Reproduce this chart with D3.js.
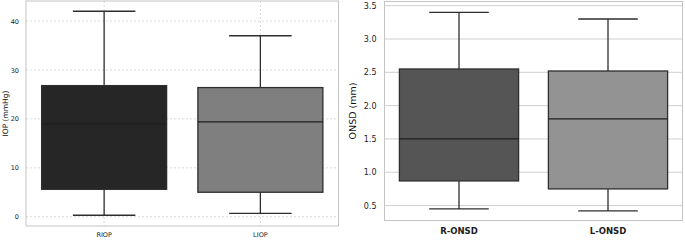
<!DOCTYPE html>
<html>
<head>
<meta charset="utf-8">
<script src="https://cdnjs.cloudflare.com/ajax/libs/d3/7.8.5/d3.min.js"></script>
<style>
  body { margin: 0; background: #fff; }
  svg { display: block; font-family: "DejaVu Sans", sans-serif; }
</style>
</head>
<body>
<div id="chart"></div>
<script>
// IOP panel
var iopGroups = ["RIOP", "LIOP"];
var iopMin = [0.3, 0.7];
var iopQ1 = [5.6, 5.0];
var iopMedian = [19.0, 19.4];
var iopQ3 = [26.8, 26.4];
var iopMax = [42.0, 37.0];
var iopTicks = [0, 10, 20, 30, 40];

// ONSD panel
var onsdGroups = ["R-ONSD", "L-ONSD"];
var onsdMin = [0.45, 0.42];
var onsdQ1 = [0.87, 0.75];
var onsdMedian = [1.5, 1.8];
var onsdQ3 = [2.55, 2.52];
var onsdMax = [3.4, 3.3];
var onsdTicks = [0.5, 1.0, 1.5, 2.0, 2.5, 3.0, 3.5];

var w = 685;
var h = 240;

var svg = d3.select("#chart")
    .append("svg")
    .attr("width", w)
    .attr("height", h);

function drawPanel(opt) {
    var g = svg.append("g");

    var x = d3.scaleBand()
        .domain(opt.groups)
        .range([opt.left, opt.right])
        .paddingInner(0)
        .paddingOuter(0);

    var y = d3.scaleLinear()
        .domain(opt.domain)
        .range([opt.bottom, opt.top]);

    var rows = opt.groups.map(function (d, i) {
        return {
            name: d, min: opt.min[i], q1: opt.q1[i], med: opt.med[i],
            q3: opt.q3[i], max: opt.max[i], fill: opt.fills[i]
        };
    });

    // horizontal grid
    g.selectAll(".hgrid")
        .data(opt.ticks)
        .enter()
        .append("line")
        .attr("x1", opt.left)
        .attr("x2", opt.right)
        .attr("y1", d => y(d))
        .attr("y2", d => y(d))
        .attr("stroke", opt.gridColor)
        .attr("stroke-width", opt.gridWidth)
        .attr("stroke-dasharray", opt.dash);

    // vertical grid
    if (opt.vgrid) {
        g.selectAll(".vgrid")
            .data(opt.groups)
            .enter()
            .append("line")
            .attr("x1", d => x(d) + x.bandwidth() / 2)
            .attr("x2", d => x(d) + x.bandwidth() / 2)
            .attr("y1", opt.top)
            .attr("y2", opt.bottom)
            .attr("stroke", opt.gridColor)
            .attr("stroke-width", opt.gridWidth)
            .attr("stroke-dasharray", opt.dash);
    }

    // frame
    g.append("rect")
        .attr("x", opt.left)
        .attr("y", opt.top)
        .attr("width", opt.right - opt.left)
        .attr("height", opt.bottom - opt.top)
        .attr("fill", "none")
        .attr("stroke", "#c4c4c4")
        .attr("stroke-width", 1);

    var boxW = x.bandwidth() * 0.8;
    var capW = x.bandwidth() * 0.4;
    var stroke = "#2e2e2e";

    var box = g.selectAll(".box")
        .data(rows)
        .enter()
        .append("g");

    // whiskers
    box.append("line")
        .attr("x1", d => x(d.name) + x.bandwidth() / 2)
        .attr("x2", d => x(d.name) + x.bandwidth() / 2)
        .attr("y1", d => y(d.max))
        .attr("y2", d => y(d.q3))
        .attr("stroke", stroke).attr("stroke-width", 1.3);
    box.append("line")
        .attr("x1", d => x(d.name) + x.bandwidth() / 2)
        .attr("x2", d => x(d.name) + x.bandwidth() / 2)
        .attr("y1", d => y(d.q1))
        .attr("y2", d => y(d.min))
        .attr("stroke", stroke).attr("stroke-width", 1.3);
    // caps
    box.append("line")
        .attr("x1", d => x(d.name) + (x.bandwidth() - capW) / 2)
        .attr("x2", d => x(d.name) + (x.bandwidth() + capW) / 2)
        .attr("y1", d => y(d.max))
        .attr("y2", d => y(d.max))
        .attr("stroke", stroke).attr("stroke-width", 1.3);
    box.append("line")
        .attr("x1", d => x(d.name) + (x.bandwidth() - capW) / 2)
        .attr("x2", d => x(d.name) + (x.bandwidth() + capW) / 2)
        .attr("y1", d => y(d.min))
        .attr("y2", d => y(d.min))
        .attr("stroke", stroke).attr("stroke-width", 1.3);
    // box
    box.append("rect")
        .attr("x", d => x(d.name) + (x.bandwidth() - boxW) / 2)
        .attr("y", d => y(d.q3))
        .attr("width", boxW)
        .attr("height", d => y(d.q1) - y(d.q3))
        .attr("fill", d => d.fill)
        .attr("stroke", stroke)
        .attr("stroke-width", 1.3);
    // median
    box.append("line")
        .attr("x1", d => x(d.name) + (x.bandwidth() - boxW) / 2)
        .attr("x2", d => x(d.name) + (x.bandwidth() + boxW) / 2)
        .attr("y1", d => y(d.med))
        .attr("y2", d => y(d.med))
        .attr("stroke", "#1e1e1e").attr("stroke-width", 1.2);

    // y tick labels
    var yAxis = d3.axisLeft(y)
        .tickValues(opt.ticks)
        .tickFormat(opt.fmt)
        .tickSize(0)
        .tickPadding(opt.tickPad);
    var ya = g.append("g")
        .attr("transform", "translate(" + opt.left + ",0)")
        .call(yAxis);
    ya.select(".domain").remove();
    ya.selectAll("text")
        .attr("font-family", "DejaVu Sans, sans-serif")
        .attr("font-size", opt.tickSize)
        .attr("fill", "#1c1c1c");

    // x tick labels
    var xAxis = d3.axisBottom(x).tickSize(0).tickPadding(opt.xPad);
    var xa = g.append("g")
        .attr("transform", "translate(0," + opt.bottom + ")")
        .call(xAxis);
    xa.select(".domain").remove();
    xa.selectAll("text")
        .attr("font-family", "DejaVu Sans, sans-serif")
        .attr("font-size", opt.xSize)
        .attr("font-weight", opt.xWeight)
        .attr("fill", "#1c1c1c");

    // y label
    g.append("text")
        .attr("transform", "translate(" + opt.labelX + "," + ((opt.top + opt.bottom) / 2) + ") rotate(-90)")
        .attr("text-anchor", "middle")
        .attr("font-size", opt.labelSize)
        .attr("fill", "#111")
        .text(opt.label);
}

drawPanel({
    groups: iopGroups, min: iopMin, q1: iopQ1, med: iopMedian, q3: iopQ3, max: iopMax,
    ticks: iopTicks, fmt: d3.format("d"),
    fills: ["#262626", "#7f7f7f"],
    left: 26, right: 338.5, top: 1, bottom: 226,
    domain: [-1.9, 44.1],
    gridColor: "#d6d6d6", gridWidth: 0.9, dash: "2,2", vgrid: true,
    tickSize: 6.5, tickPad: 7, xSize: 6.5, xWeight: "normal", xPad: 6,
    label: "IOP (mmHg)", labelX: 8, labelSize: 7.5
});

drawPanel({
    groups: onsdGroups, min: onsdMin, q1: onsdQ1, med: onsdMedian, q3: onsdQ3, max: onsdMax,
    ticks: onsdTicks, fmt: d3.format(".1f"),
    fills: ["#555555", "#939393"],
    left: 384.5, right: 682.5, top: 1.5, bottom: 220.5,
    domain: [0.276, 3.563],
    gridColor: "#cfcfcf", gridWidth: 1, dash: null, vgrid: false,
    tickSize: 8, tickPad: 8, xSize: 8.5, xWeight: "bold", xPad: 7,
    label: "ONSD (mm)", labelX: 356, labelSize: 9.5
});
</script>
</body>
</html>
